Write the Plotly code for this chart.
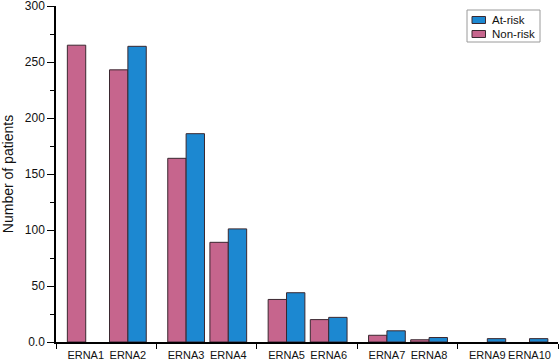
import plotly.graph_objects as go

categories = ["ERNA1", "ERNA2", "ERNA3", "ERNA4", "ERNA5",
              "ERNA6", "ERNA7", "ERNA8", "ERNA9", "ERNA10"]
non_risk = [265, 243, 164, 89, 38, 20, 6, 2, None, None]
at_risk = [None, 264, 186, 101, 44, 22, 10, 4, 3, 3]
y_tick_vals = [0, 50, 100, 150, 200, 250, 300]
y_tick_text = ["0.0", "50", "100", "150", "200", "250", "300"]
series_names = ["At-risk", "Non-risk"]

# layout: categories come in pairs, each pair occupying one unit section
pair_offsets = [0.296, 0.716]
centers = [i // 2 + pair_offsets[i % 2] for i in range(len(categories))]
bw = 0.183
n_sections = (len(categories) + 1) // 2

PINK = "#C6658D"
BLUE = "#1C88D1"
EDGE = "#3a2830"
FONT = "Liberation Sans, Arial, sans-serif"

W, H = 559, 361
ML, MR, MT, MB = 56, 1, 6, 19
PW, PH = W - ML - MR, H - MT - MB


def px_x(px):
    return (px - ML) / PW


def px_y(py):
    return (H - MB - py) / PH


fig = go.Figure()
fig.add_trace(go.Bar(
    x=centers, y=non_risk, name=series_names[1], width=bw, offset=-bw,
    marker=dict(color=PINK, line=dict(color=EDGE, width=1)),
))
fig.add_trace(go.Bar(
    x=centers, y=at_risk, name=series_names[0], width=bw, offset=0,
    marker=dict(color=BLUE, line=dict(color=EDGE, width=1)),
))

# hand-drawn legend box (to match compact reference legend)
shapes = [dict(type="rect", xref="paper", yref="paper",
               x0=px_x(467), x1=px_x(540), y0=px_y(42), y1=px_y(10),
               line=dict(color="#9a9a9a", width=1), fillcolor="white", layer="above")]
annotations = []
for k, (name, col) in enumerate(zip(series_names, [BLUE, PINK])):
    cy = 20 + k * 14
    shapes.append(dict(type="rect", xref="paper", yref="paper",
                       x0=px_x(472), x1=px_x(485.5), y0=px_y(cy + 3.5), y1=px_y(cy - 3.5),
                       line=dict(color=EDGE, width=1), fillcolor=col, layer="above"))
    annotations.append(dict(xref="paper", yref="paper", x=px_x(490), y=px_y(cy),
                            xanchor="left", yanchor="middle", text=name, showarrow=False,
                            font=dict(size=11.5, family=FONT, color="#111")))

fig.update_layout(
    width=W, height=H,
    margin=dict(l=ML, r=MR, t=MT, b=MB),
    paper_bgcolor="white", plot_bgcolor="white",
    barmode="overlay",
    font=dict(family=FONT, color="#111", size=11.5),
    showlegend=False,
    shapes=shapes,
    annotations=annotations,
    xaxis=dict(
        range=[0, n_sections], tickmode="array", tickvals=centers,
        ticktext=categories, ticks="", showgrid=False, zeroline=False,
        showline=True, linecolor="black", linewidth=1.5, tickangle=0,
        tickfont=dict(size=11, family=FONT), ticklabelstandoff=2,
        ticklabeloverflow="allow",
        minor=dict(tickmode="array", tickvals=list(range(n_sections + 1)),
                   ticks="outside", ticklen=5, tickcolor="black", tickwidth=1,
                   showgrid=False),
        automargin=False,
    ),
    yaxis=dict(
        range=[0, 300], tickmode="array", tickvals=y_tick_vals,
        ticktext=y_tick_text, ticks="outside", ticklen=7, tickcolor="black",
        tickwidth=1, showgrid=False, zeroline=False,
        showline=True, linecolor="black", linewidth=1.5,
        tickfont=dict(size=12, family=FONT), ticklabeloverflow="allow",
        minor=dict(dtick=25, tick0=0, ticks="outside", ticklen=4,
                   tickcolor="black", tickwidth=1, showgrid=False),
        title=dict(text="Number of patients", font=dict(size=14, family=FONT),
                   standoff=8),
        automargin=False,
    ),
)

fig.write_html("out.html", config={"displayModeBar": False},
               post_script="document.body.style.margin='0';")
